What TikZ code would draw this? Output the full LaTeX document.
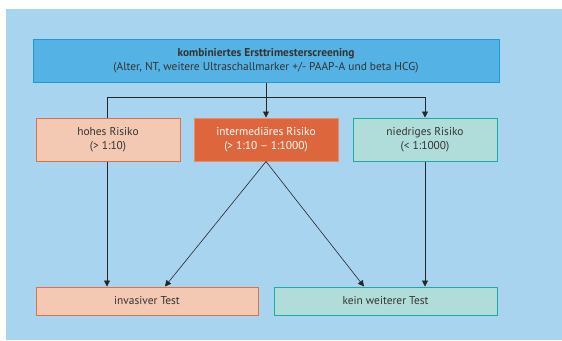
\documentclass[tikz,border=0pt]{standalone}
\usepackage{fontspec}
\setmainfont{PT Sans}
\usetikzlibrary{arrows.meta}
\definecolor{bg}{HTML}{A9D4F0}
\definecolor{topfill}{HTML}{55B2E5}
\definecolor{topdraw}{HTML}{1E9AD9}
\definecolor{hifill}{HTML}{F4C9B3}
\definecolor{hidraw}{HTML}{E36E48}
\definecolor{midfill}{HTML}{DE663D}
\definecolor{middraw}{HTML}{F08A64}
\definecolor{lofill}{HTML}{B0DDD9}
\definecolor{lodraw}{HTML}{1AADA1}
\definecolor{txt}{HTML}{333333}
\begin{document}
\begin{tikzpicture}[x=1pt,y=-1pt,
  box/.style={draw, line width=1pt, inner sep=0pt, align=center, text=txt, font=\fontsize{11.4}{14.5}\selectfont},
  conn/.style={line width=0.6pt, draw=black!85},
  arr/.style={conn, -{Triangle[length=6pt,width=6pt]}}]
\useasboundingbox (0,0) rectangle (562,340);
\fill[white] (0,0) rectangle (562,340);
\fill[bg] (6,9) rectangle (562,340);
\node[box, fill=topfill, draw=topdraw, minimum width=466pt, minimum height=43pt] (top) at (266,60.5)
  {\textbf{kombiniertes Ersttrimesterscreening}\\(Alter, NT, weitere Ultraschallmarker +/- PAAP-A und beta HCG)};
\node[box, fill=hifill, draw=hidraw, minimum width=144pt, minimum height=43pt] (hi) at (108,139.5)
  {hohes Risiko\\(> 1:10)};
\node[box, fill=midfill, draw=middraw, text=white, minimum width=144pt, minimum height=43pt] (mid) at (266,139.5)
  {intermediäres Risiko\\(> 1:10 – 1:1000)};
\node[box, fill=lofill, draw=lodraw, minimum width=144pt, minimum height=43pt] (lo) at (425,139.5)
  {niedriges Risiko\\(< 1:1000)};
\node[box, fill=hifill, draw=hidraw, minimum width=222pt, minimum height=28pt] (inv) at (147,301)
  {invasiver Test};
\node[box, fill=lofill, draw=lodraw, minimum width=223pt, minimum height=28pt] (kein) at (385.5,301)
  {kein weiterer Test};
\coordinate (j) at (266,97);
\coordinate (jl) at (107,97);
\coordinate (jr) at (425,97);
\draw[conn] (top.south) -- (j);
\draw[conn] (jl) -- (jr);
\draw[conn] (jl) -- (hi.north -| jl);
\draw[arr] (j) -- (mid.north);
\draw[arr] (jr) -- (lo.north -| jr);
\draw[arr] (hi.south -| jl) -- (inv.north -| jl);
\draw[arr] (mid.south) -- (inv.north -| 165,0);
\draw[arr] (mid.south) -- (kein.north -| 364,0);
\draw[arr] (lo.south -| jr) -- (kein.north -| jr);
\end{tikzpicture}
\end{document}
